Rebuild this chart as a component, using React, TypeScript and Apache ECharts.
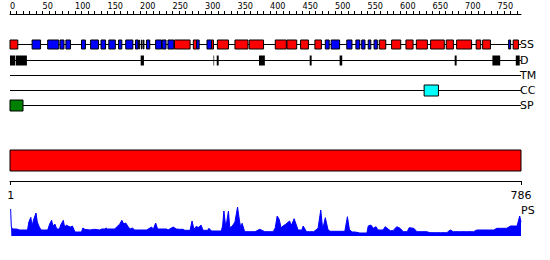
import React, { useEffect, useRef } from "react";
import * as echarts from "echarts";

// ---------- data ----------
const SEQ_LENGTH = 786;
const topTickLabels = [0, 50, 100, 150, 200, 250, 300, 350, 400, 450, 500, 550, 600, 650, 700, 750];
const bottomTickLabels = [1, 786];
const trackNames = ["SS", "D", "TM", "CC", "SP"];

// secondary structure: helices (red) and strands (blue), [start, end] residues
const helices: [number, number][] = [
  [1, 12], [254, 277], [283, 287], [311, 313], [320, 336], [347, 366], [369, 390],
  [409, 425], [427, 441], [448, 459], [470, 479], [569, 578], [588, 601], [610, 620],
  [626, 642], [648, 668], [672, 682], [688, 710], [718, 724], [728, 739], [775, 782],
];
const strands: [number, number][] = [
  [35, 47], [59, 75], [78, 83], [87, 93], [111, 116], [125, 136], [141, 147], [153, 162],
  [168, 172], [179, 189], [194, 197], [199, 199], [203, 203], [206, 206], [211, 215],
  [225, 233], [235, 240], [244, 252], [288, 291], [304, 310], [486, 491], [495, 507],
  [519, 526], [533, 538], [542, 546], [552, 555], [561, 565], [768, 770],
];
const disorder: [number, number][] = [
  [1, 8], [10, 26], [202, 206], [314, 314], [319, 321], [384, 392], [462, 464],
  [508, 511], [685, 687], [743, 754], [779, 784],
];
const transmembrane: [number, number][] = [];
const coiledCoil: [number, number][] = [[638, 659]];
const signalPeptide: [number, number][] = [[1, 20]];
const domains: [number, number][] = [[1, 786]];

// PS profile (residue, score)
const psPositions = [
  1, 2, 4, 10, 15, 23, 27, 29, 32, 34, 36, 40, 42, 45, 48, 53, 58, 61, 64, 66, 69, 72, 76, 78,
  82, 84, 87, 89, 93, 96, 100, 104, 110, 112, 115, 123, 130, 138, 141, 146, 148, 150, 157, 161,
  164, 169, 172, 175, 178, 182, 185, 188, 192, 200, 210, 218, 220, 224, 227, 234, 241, 243, 251,
  256, 261, 266, 269, 277, 280, 283, 287, 289, 292, 294, 297, 304, 306, 310, 317, 325, 327, 329,
  332, 336, 338, 342, 346, 350, 353, 355, 357, 361, 369, 377, 384, 392, 400, 405, 408, 411, 414,
  417, 420, 424, 430, 433, 437, 441, 443, 449, 451, 456, 461, 467, 472, 474, 478, 481, 485, 489,
  492, 500, 508, 515, 519, 522, 526, 531, 538, 543, 549, 551, 555, 559, 563, 566, 574, 577, 585,
  589, 595, 600, 605, 611, 614, 621, 626, 632, 641, 646, 654, 662, 672, 677, 682, 693, 702, 713,
  718, 726, 736, 744, 749, 754, 764, 770, 776, 780, 784, 786,
];
const psValues = [
  27, 9, 7, 7, 6, 6, 6, 14, 18.7, 10, 15.7, 23, 14, 9, 6, 6, 6, 12, 15.7, 10, 12, 7, 7, 11,
  15.7, 9, 11, 10, 9, 10, 4, 4, 4, 8, 6.7, 6, 6.7, 6, 7, 7, 8, 7, 7, 7,
  9, 12, 15.7, 12, 13, 9, 7, 8, 6, 6, 6, 9, 6, 13, 7, 7, 7, 6, 9,
  7, 6.7, 6.7, 5.7, 5.7, 15, 6.7, 10, 8, 10, 10.7, 5.7, 5.7, 7.7, 5, 5, 5, 10, 25,
  8.3, 25, 8.3, 10, 14, 29, 15, 8.3, 12.7, 4.3, 4.3, 4.3, 6.7, 4.3, 4.3, 4.3, 8.3, 20, 16.7,
  8.3, 10, 11.7, 15, 10.7, 17.3, 10, 6, 6, 10, 4.3, 4.3, 4.3, 6.7, 8.3, 26, 6.7, 18.3, 6.7,
  4.7, 4.7, 4.7, 4.7, 19.3, 6.7, 4, 4, 3, 3, 3, 10, 11, 7.7, 9.3, 6, 6, 9.3, 5.3,
  5.3, 9.3, 7.7, 4.3, 4.3, 8.3, 7.7, 4.3, 4.3, 4.3, 3.3, 3.3, 3.3, 3.3, 6, 4.3, 4.3, 4.3, 4.3,
  6, 6, 6, 6, 7.7, 7.7, 7.7, 10, 10, 10, 20, 14,
];

// ---------- layout ----------
const GRID_LEFT = 10;
const GRID_RIGHT = 29;
const TRACK_TOP = 14;
const TRACK_BOTTOM = 181;
const trackY: Record<string, number> = { SS: 44.5, D: 60.5, TM: 75.5, CC: 90.5, SP: 105.5 };
const PS_LABEL_Y = 212;
const FONT = "'DejaVu Sans', sans-serif";
const NARROW_FONT = "'Liberation Sans Narrow', 'DejaVu Sans Condensed', 'DejaVu Sans', sans-serif";

function boxSeries(
  name: string,
  data: [number, number][],
  yCenter: number,
  height: number,
  fill: string,
  stroke: string | null
) {
  return {
    type: "custom",
    name,
    xAxisIndex: 0,
    yAxisIndex: 0,
    silent: true,
    data,
    encode: { x: [0, 1] },
    renderItem: (_params: any, api: any) => {
      const s = api.value(0);
      const e = api.value(1);
      const a = api.coord([s - 1, yCenter]);
      const b = api.coord([e, yCenter]);
      return {
        type: "rect",
        shape: { x: a[0], y: a[1] - height / 2, width: b[0] - a[0], height },
        style: stroke
          ? { fill, stroke, lineWidth: 1 }
          : { fill },
      };
    },
  };
}

export default function App() {
  const ref = useRef<HTMLDivElement>(null);

  useEffect(() => {
    if (!ref.current) return;
    const chart = echarts.init(ref.current, null, { renderer: "svg" });
    const minorTicks: number[] = [];
    for (let v = 0; v <= 780; v += 10) minorTicks.push(v);

    const trackLineSeries = {
      type: "custom",
      name: "tracks",
      xAxisIndex: 0,
      yAxisIndex: 0,
      silent: true,
      data: trackNames.map((n) => [0, SEQ_LENGTH, trackY[n]]),
      encode: { x: [0, 1] },
      renderItem: (_p: any, api: any) => {
        const y = api.value(2);
        const a = api.coord([api.value(0), y]);
        const b = api.coord([api.value(1), y]);
        return {
          type: "line",
          shape: { x1: a[0], y1: a[1], x2: b[0], y2: b[1] },
          style: { stroke: "#000", lineWidth: 1 },
        };
      },
    };

    const option: any = {
      animation: false,
      grid: [
        {
          left: GRID_LEFT,
          right: GRID_RIGHT,
          top: TRACK_TOP,
          bottom: 260 - TRACK_BOTTOM,
          containLabel: false,
          outerBoundsMode: "none",
        },
        {
          left: GRID_LEFT,
          right: GRID_RIGHT,
          top: 206,
          bottom: 24,
          containLabel: false,
          outerBoundsMode: "none",
        },
      ],
      xAxis: [
        {
          type: "value",
          gridIndex: 0,
          position: "top",
          min: 0,
          max: SEQ_LENGTH,
          interval: 50,
          axisLine: { show: true, lineStyle: { color: "#000", width: 1 } },
          axisTick: {
            show: true,
            length: 3,
            customValues: minorTicks,
            lineStyle: { color: "#000", width: 1 },
          },
          axisLabel: {
            show: true,
            customValues: topTickLabels,
            align: "left",
            margin: 4,
            fontSize: 9,
            fontFamily: NARROW_FONT,
            color: "#000",
          },
          splitLine: { show: false },
        },
        {
          type: "value",
          gridIndex: 0,
          position: "bottom",
          min: 0,
          max: SEQ_LENGTH,
          axisLine: { show: true, lineStyle: { color: "#000", width: 1 } },
          axisTick: {
            show: true,
            length: 4,
            customValues: bottomTickLabels,
            lineStyle: { color: "#000", width: 1 },
          },
          axisLabel: {
            show: true,
            customValues: bottomTickLabels,
            margin: 9,
            fontSize: 11,
            fontFamily: FONT,
            color: "#000",
          },
          splitLine: { show: false },
        },
        {
          type: "value",
          gridIndex: 1,
          min: 0,
          max: SEQ_LENGTH,
          show: false,
        },
      ],
      yAxis: [
        {
          type: "value",
          gridIndex: 0,
          min: TRACK_TOP,
          max: TRACK_BOTTOM,
          inverse: true,
          show: false,
        },
        {
          type: "value",
          gridIndex: 1,
          min: 0,
          max: 30,
          show: false,
        },
      ],
      series: [
        trackLineSeries,
        boxSeries("helix", helices, trackY.SS, 9, "#ff0000", "#000"),
        boxSeries("strand", strands, trackY.SS, 9, "#0000ff", "#000"),
        boxSeries("disorder", disorder, trackY.D, 10, "#000", null),
        boxSeries("transmembrane", transmembrane, trackY.TM, 10, "#ffff00", "#000"),
        boxSeries("coiled coil", coiledCoil, trackY.CC, 11, "#00ffff", "#000"),
        boxSeries("signal peptide", signalPeptide, trackY.SP, 11, "#008000", "#000"),
        boxSeries("domain", domains, 160.5, 21, "#ff0000", "#000"),
        {
          type: "line",
          name: "PS",
          xAxisIndex: 2,
          yAxisIndex: 1,
          data: psPositions.map((p, i) => [p, psValues[i]]),
          symbol: "none",
          silent: true,
          lineStyle: { color: "#0000ff", width: 1 },
          areaStyle: { color: "#0000ff", opacity: 1 },
        },
      ],
      graphic: [
        ...trackNames.map((n) => ({
          type: "text",
          left: 520,
          top: trackY[n] - 6,
          style: { text: n, fontSize: 11, fontFamily: FONT, fill: "#000" },
        })),
        {
          type: "text",
          left: 521,
          top: PS_LABEL_Y - 7,
          style: { text: "PS", fontSize: 11, fontFamily: FONT, fill: "#000" },
        },
      ],
    };
    chart.setOption(option);
    return () => chart.dispose();
  }, []);

  return (
    <div
      ref={ref}
      style={{ position: "fixed", left: 0, top: 0, width: 550, height: 260, background: "#fff" }}
    />
  );
}
